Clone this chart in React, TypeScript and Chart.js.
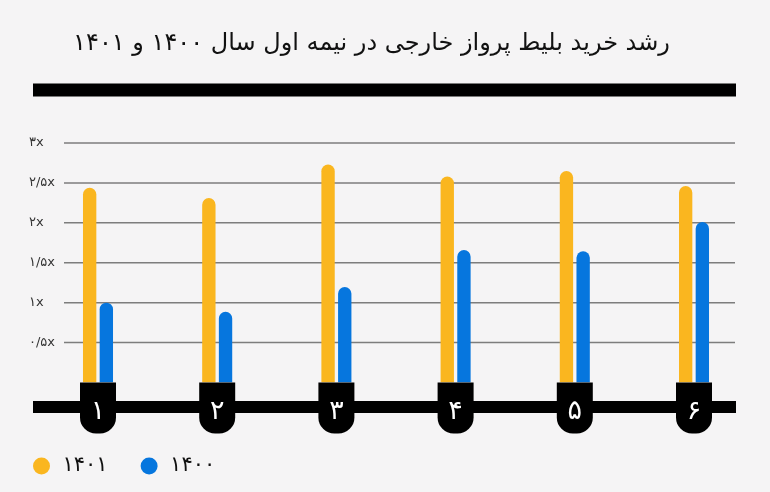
import { useEffect, useRef } from 'react';
import { Chart, registerables } from 'chart.js';

Chart.register(...registerables);
Chart.defaults.font.family = '"DejaVu Sans", sans-serif';

const chartTitle = 'رشد خرید بلیط پرواز خارجی در نیمه اول سال ۱۴۰۰ و ۱۴۰۱';
const categories = ['۱', '۲', '۳', '۴', '۵', '۶'];
const seriesLabels = ['۱۴۰۱', '۱۴۰۰'];
const values1401 = [2.44, 2.31, 2.73, 2.58, 2.65, 2.46];
const values1400 = [1.0, 0.885, 1.195, 1.66, 1.645, 2.01];
const yTickLabels = ['', '۰/۵x', '۱x', '۱/۵x', '۲x', '۲/۵x', '۳x'];

const YELLOW = '#fab61f';
const BLUE = '#0676de';

// grid lines, black rules, tabs under each category and the title
const decorPlugin = {
  id: 'decor',
  beforeDraw(chart: any) {
    const { ctx } = chart;
    ctx.save();
    ctx.fillStyle = '#000';
    ctx.fillRect(33, 83.5, 703, 13);
    ctx.font = '24px "DejaVu Sans"';
    ctx.direction = 'rtl';
    ctx.textAlign = 'center';
    ctx.textBaseline = 'alphabetic';
    ctx.fillStyle = '#111';
    ctx.fillText(chartTitle, 371.5, 50);
    ctx.restore();
  },
  beforeDatasetsDraw(chart: any) {
    const { ctx } = chart;
    const y = chart.scales.y;
    ctx.save();
    ctx.strokeStyle = '#7d7d7d';
    ctx.lineWidth = 1.5;
    y.ticks.forEach((t: any) => {
      if (t.value <= 0) return;
      const py = y.getPixelForValue(t.value);
      ctx.beginPath();
      ctx.moveTo(64, py);
      ctx.lineTo(735, py);
      ctx.stroke();
    });
    ctx.restore();
  },
  afterDatasetsDraw(chart: any) {
    const { ctx } = chart;
    const x = chart.scales.x;
    const base = chart.scales.y.getPixelForValue(0);
    ctx.save();
    ctx.fillStyle = '#000';
    ctx.fillRect(33, 401, 703, 12);
    categories.forEach((_, i) => {
      const cx = x.getPixelForValue(i);
      ctx.beginPath();
      ctx.roundRect(cx - 18, base, 36, 51, [0, 0, 16, 16]);
      ctx.fill();
    });
    ctx.restore();
  },
};

const App = () => {
  const canvasRef = useRef<HTMLCanvasElement>(null);

  useEffect(() => {
    if (!canvasRef.current) return;

    const myChart = new Chart(canvasRef.current, {
      type: 'bar',
      data: {
        labels: categories,
        datasets: [
          {
            label: seriesLabels[0],
            data: values1401,
            backgroundColor: YELLOW,
            borderWidth: 0,
            borderRadius: 7,
            borderSkipped: 'start',
          },
          {
            label: seriesLabels[1],
            data: values1400,
            backgroundColor: BLUE,
            borderWidth: 0,
            borderRadius: 7,
            borderSkipped: 'start',
          },
        ],
      },
      options: {
        animation: false,
        responsive: true,
        maintainAspectRatio: false,
        categoryPercentage: 0.28,
        barPercentage: 0.8,
        layout: { padding: { left: 0, right: 16.4, top: 143, bottom: 5.5 } },
        plugins: {
          title: { display: false },
          tooltip: { enabled: false },
          legend: {
            position: 'bottom',
            align: 'start',
            labels: {
              usePointStyle: true,
              pointStyle: 'circle',
              boxWidth: 21,
              boxHeight: 12,
              padding: 31,
              color: '#111',
              font: { size: 21 },
            },
          },
        },
        scales: {
          x: {
            grid: { display: false, drawTicks: false },
            border: { display: false },
            ticks: { z: 1, color: '#fff', font: { size: 27 }, padding: 13 },
            afterFit: (s: any) => {
              s.height = 42;
            },
          },
          y: {
            min: 0,
            max: 3,
            grid: { display: false, drawTicks: false },
            border: { display: false },
            ticks: {
              stepSize: 0.5,
              mirror: true,
              crossAlign: 'near',
              padding: -9.4,
              color: '#333',
              font: { size: 13 },
              callback: (_v: any, i: number) => yTickLabels[i],
            },
            afterFit: (s: any) => {
              s.width = 38.4;
            },
          },
        },
      } as any,
      plugins: [decorPlugin],
    });

    return () => {
      myChart.destroy();
    };
  }, []);

  return (
    <div style={{ position: 'fixed', left: 0, top: 0, width: 770, height: 492, background: '#f5f4f5' }}>
      <canvas ref={canvasRef}></canvas>
    </div>
  );
};

export default App;
